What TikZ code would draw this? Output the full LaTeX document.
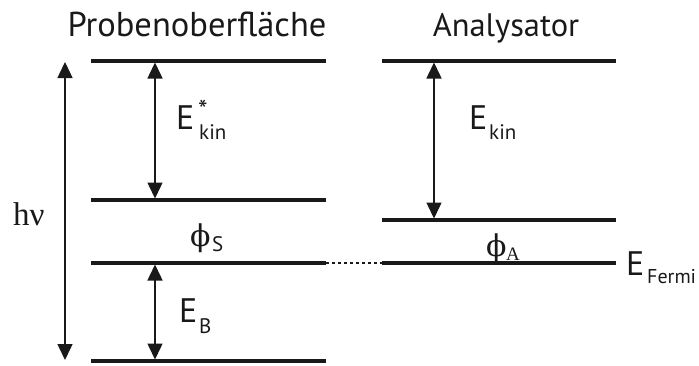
\documentclass[tikz,border=0pt]{standalone}
\usepackage{fontspec}
\setmainfont{PT Sans}
\newfontfamily\grk{DejaVu Serif}
\newfontfamily\srf{Liberation Serif}
\usetikzlibrary{arrows.meta}
\tikzset{
  level/.style={line width=3.2pt, draw=black!90},
  dbl/.style={line width=1.5pt, draw=black!90, {Triangle[length=16pt,width=15pt]}-{Triangle[length=16pt,width=15pt]}},
  ttl/.style={font=\fontsize{32.5}{32.5}\selectfont, anchor=base, inner sep=0pt, text=black!90},
  big/.style={font=\fontsize{34}{34}\selectfont, anchor=base west, inner sep=0pt, text=black!90},
  sub/.style={font=\fontsize{21}{21}\selectfont, anchor=base west, inner sep=0pt, text=black!90},
}
\begin{document}
\begin{tikzpicture}[x=1pt,y=-1pt]
\useasboundingbox (0,0) rectangle (699,365);
% levels left
\coordinate (s1a) at (91,61);  \coordinate (s1b) at (326,61);
\coordinate (s2a) at (91,200); \coordinate (s2b) at (326,200);
\coordinate (s3a) at (91,263); \coordinate (s3b) at (326,263);
\coordinate (s4a) at (91,361); \coordinate (s4b) at (326,361);
% levels right
\coordinate (r1a) at (382,61);  \coordinate (r1b) at (616,61);
\coordinate (r2a) at (382,220); \coordinate (r2b) at (616,220);
\coordinate (r3a) at (382,263); \coordinate (r3b) at (616,263);
\draw[level] (s1a) -- (s1b);
\draw[level] (s2a) -- (s2b);
\draw[level] (s3a) -- (s3b);
\draw[level] (s4a) -- (s4b);
\draw[level] (r1a) -- (r1b);
\draw[level] (r2a) -- (r2b);
\draw[level] (r3a) -- (r3b);
\draw[line width=1.2pt, dash pattern=on 3pt off 3pt, black!90] (s3b) -- (r3a);
% arrows
\coordinate (h1) at (65,62);  \coordinate (h2) at (65,360);
\coordinate (k1) at (155,62.5); \coordinate (k2) at (155,198.5);
\coordinate (b1) at (155,264.5); \coordinate (b2) at (155,359.5);
\coordinate (a1) at (434,62.5); \coordinate (a2) at (434,218.5);
\draw[dbl] (h1) -- (h2);
\draw[dbl] (k1) -- (k2);
\draw[dbl] (b1) -- (b2);
\draw[dbl] (a1) -- (a2);
% titles
\node[ttl, font=\fontsize{34.5}{34.5}\selectfont] (t1) at (197,36) {Probenoberfläche};
\node[ttl] (t2) at (506,36) {Analysator};
% labels
\node[big] (ek) at (176,129) {E};
\node[sub, font=\fontsize{27}{27}\selectfont] (st) at (198,119) {*};
\node[sub] (ks) at (199,139) {kin};
\node[big] (ea) at (469,129) {E};
\node[sub] (ka) at (489,139) {kin};
\node[big] (eb) at (179,322) {E};
\node[sub] (bs) at (199,333) {B};
\node[big, font=\srf\fontsize{33}{33}\selectfont] (hv) at (13,225) {hν};
\node[big, font=\grk\fontsize{30}{30}\selectfont] (ps) at (190,246) {ϕ};
\node[sub] (ss) at (212,251) {S};
\node[big, font=\grk\fontsize{30}{30}\selectfont] (pa) at (486,256) {ϕ};
\node[sub, font=\srf\fontsize{19}{19}\selectfont] (sa) at (506,260) {A};
\node[big] (ef) at (626,275) {E};
\node[sub, font=\fontsize{20}{20}\selectfont] (fm) at (647,283) {Fermi};
\end{tikzpicture}
\end{document}
